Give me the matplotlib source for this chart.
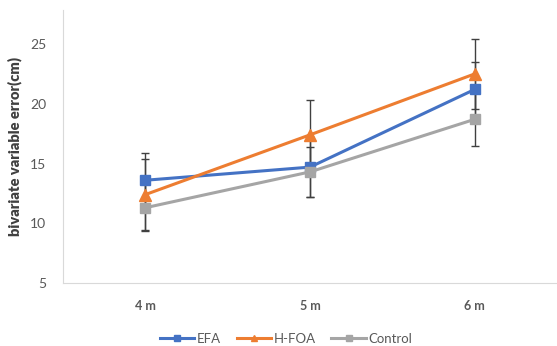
import matplotlib.pyplot as plt
from matplotlib.lines import Line2D

# values
categories = ['4 m', '5 m', '6 m']
efa = [13.6, 14.7, 21.2]
hfoa = [12.4, 17.4, 22.5]
control = [11.3, 14.3, 18.7]
efa_err = [2.3, 2.5, 2.3]
hfoa_err = [2.95, 2.9, 2.95]
control_err = [1.97, 2.1, 2.2]
yticks = [5, 10, 15, 20, 25]

plt.rcParams['font.family'] = ['Lato', 'DejaVu Sans']

fig = plt.figure(figsize=(5.57, 3.46), dpi=100)
ax = fig.add_axes([63 / 557, 63 / 346, 494 / 557, 273 / 346])

x = range(len(categories))
series = [
    ('EFA', efa, efa_err, '#4472C4', 's', 7),
    ('H-FOA', hfoa, hfoa_err, '#ED7D31', '^', 8),
    ('Control', control, control_err, '#A5A5A5', 's', 7),
]
handles = []
for name, vals, err, col, mk, ms in series:
    ax.errorbar(x, vals, yerr=err, color=col, marker=mk, markersize=ms,
                linewidth=2.2, ecolor='#404040', elinewidth=1, capsize=3,
                capthick=1)
    handles.append(Line2D([], [], color=col, marker=mk, markersize=5,
                          linewidth=2.2, label=name))

ax.set_xlim(-0.5, 2.5)
ax.set_ylim(5, 27.85)
ax.set_xticks(list(x))
ax.set_xticklabels(categories, fontsize=9, color='#595959', fontweight='bold')
ax.set_yticks(yticks)
ax.set_yticklabels([str(t) for t in yticks], fontsize=10, color='#595959')
ax.tick_params(length=0, pad=12)
ax.set_ylabel('bivariate variable error(cm)', fontsize=10.5, fontweight='heavy',
              color='#404040', labelpad=6)

for s in ['top', 'right']:
    ax.spines[s].set_visible(False)
for s in ['left', 'bottom']:
    ax.spines[s].set_color('#D9D9D9')

fig.legend(handles=handles, loc='center',
           bbox_to_anchor=(286 / 557, 1 - 339 / 346), ncol=3,
           frameon=False, fontsize=9.5, handlelength=2.6, columnspacing=1.2,
           handletextpad=0.2, labelcolor='#595959')

fig.savefig('out.png', dpi=100)
